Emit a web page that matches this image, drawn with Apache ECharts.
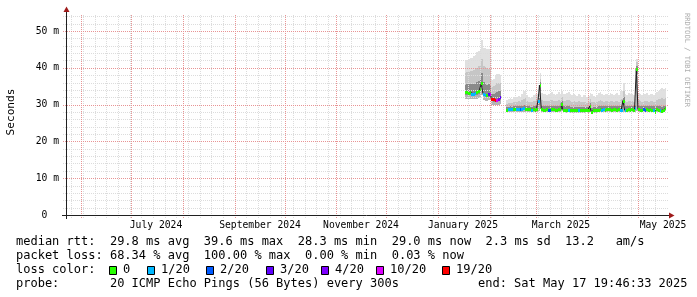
<!DOCTYPE html>
<html><head><meta charset="utf-8">
<script src="https://cdn.jsdelivr.net/npm/echarts@6/dist/echarts.min.js"></script>
<style>html,body{margin:0;padding:0;background:#fff}#c{width:697px;height:297px}</style>
</head><body><div id="c"></div>
<script>
// ---- time range and sampling ----
const startTime = Date.UTC(2024, 4, 22, 19, 46, 33);
const endTime = Date.UTC(2025, 4, 17, 19, 46, 33);
const firstSample = Date.UTC(2025, 0, 17, 12, 0, 0);
const DAY = 86400000;
const yAxisMax = 54.35;

// ---- series values (one value per day from firstSample) ----
const median = [33.3,33.3,33.2,33.3,33.0,33.0,33.1,33.3,33.6,34.2,35.8,33.0,32.6,32.5,32.8,32.9,
 31.6,31.4,31.2,31.2,31.5,32.0,
 null,null,null,
 28.6,28.7,28.8,28.7,28.8,28.8,28.9,28.8,28.7,28.8,29.0,28.9,28.8,28.7,28.7,28.6,28.7,28.6,28.7,31.0,
 35.3,28.7,28.6,28.6,28.7,28.6,28.6,28.7,28.7,28.6,28.6,28.7,28.7,30.3,28.6,
 28.5,28.5,28.6,28.5,28.5,28.5,28.4,28.5,28.5,28.4,28.5,28.4,28.5,28.6,28.5,
 29.6,28.0,28.5,28.6,28.5,28.6,28.7,28.6,28.7,28.6,28.7,28.8,28.7,28.6,28.7,28.7,28.6,28.7,28.6,28.6,
 31.1,28.5,28.6,28.7,28.6,28.7,28.6,29.2,
 39.7,
 28.7,28.6,28.6,28.7,28.6,28.7,28.6,28.7,28.6,28.6,28.1,28.7,28.6,28.4,28.3,28.6,29.0];

const lossIndex = [0,0,0,0,1,1,1,0,0,0,0,1,1,0,3,5,
 6,6,6,5,4,3,
 null,null,null,
 0,1,1,1,0,0,1,1,2,1,1,0,0,0,0,1,0,0,0,1,
 0,0,0,0,0,2,2,0,0,0,0,0,0,0,0,
 0,0,1,0,0,0,0,0,1,0,0,0,0,0,0,
 0,0,0,0,0,0,0,1,1,0,0,0,0,0,0,0,0,0,1,1,
 0,1,0,0,0,0,0,1,
 0,
 0,0,0,2,2,0,0,0,0,1,0,0,0,1,0,0,0];

const pingMax = [42.0,42.1,42.5,42.6,42.8,43.3,43.6,44.2,44.6,45.0,47.6,45.4,45.3,45.2,45.0,44.8,
 36.8,37.0,37.8,38.2,38.4,38.0,
 null,null,null,
 31.2,31.6,31.8,31.5,32.0,31.8,32.2,32.4,32.0,33.0,33.8,34.0,32.6,32.2,31.8,32.0,32.6,32.8,33.0,35.0,
 38.5,33.2,33.0,32.8,32.6,33.0,33.2,33.4,32.8,32.6,33.0,33.3,32.8,33.6,33.0,
 32.9,33.2,33.4,32.8,32.6,33.0,32.6,32.4,32.8,32.5,32.2,32.6,32.3,32.0,32.4,
 33.2,32.8,32.4,32.0,32.6,33.2,33.4,32.8,32.6,33.0,32.8,32.6,33.2,33.0,32.6,32.8,33.2,32.6,33.4,33.8,
 35.8,33.0,32.6,33.2,32.8,33.0,32.6,33.4,
 42.5,
 33.2,32.8,32.6,33.0,32.8,33.2,32.6,33.0,32.8,32.6,33.0,33.4,33.8,34.2,34.4,34.2,34.5];

const pingP90 = [38.6,38.8,38.9,39.0,39.2,39.4,39.6,40.0,40.4,40.8,42.5,40.6,40.2,40.0,39.8,39.6,
 34.8,35.0,35.4,35.8,36.0,35.8,
 null,null,null,
 30.2,30.4,30.5,30.4,30.6,30.6,30.8,30.9,30.7,31.2,31.6,31.7,31.0,30.8,30.6,30.6,30.9,31.0,31.2,33.0,
 37.0,31.3,31.1,31.0,30.9,31.1,31.2,31.3,31.0,30.9,31.1,31.3,31.0,32.0,31.1,
 31.0,31.2,31.3,30.9,30.8,31.0,30.8,30.7,30.9,30.7,30.6,30.8,30.6,30.4,30.6,
 31.4,30.8,30.7,30.5,30.8,31.1,31.2,30.9,30.8,31.0,30.9,30.8,31.1,31.0,30.8,30.9,31.1,30.8,31.2,31.5,
 33.8,31.0,30.8,31.1,30.9,31.0,30.8,31.6,
 41.6,
 31.2,30.9,30.8,31.0,30.9,31.1,30.8,31.0,30.9,30.8,30.8,31.2,31.4,31.6,31.7,31.6,31.8];

const pingHigh = [35.4,35.5,35.6,35.7,35.6,35.7,35.8,36.1,36.4,36.9,38.6,36.2,35.6,35.4,35.5,35.4,
 33.0,33.0,33.1,33.4,33.6,33.6,
 null,null,null,
 29.3,29.4,29.5,29.4,29.5,29.5,29.6,29.6,29.5,29.7,29.9,29.9,29.6,29.5,29.4,29.4,29.5,29.5,29.6,31.8,
 36.2,29.6,29.5,29.5,29.5,29.5,29.6,29.6,29.5,29.5,29.5,29.6,29.5,31.0,29.5,
 29.4,29.5,29.5,29.4,29.4,29.4,29.3,29.3,29.4,29.3,29.3,29.3,29.3,29.3,29.3,
 30.4,29.2,29.3,29.4,29.4,29.5,29.6,29.5,29.5,29.5,29.6,29.6,29.6,29.5,29.5,29.6,29.5,29.6,29.5,29.6,
 32.2,29.5,29.5,29.6,29.5,29.6,29.5,30.0,
 40.6,
 29.6,29.5,29.5,29.6,29.5,29.6,29.5,29.6,29.5,29.5,29.2,29.6,29.6,29.5,29.4,29.6,29.9];

const pingLow = [32.7,32.7,32.6,32.7,32.5,32.5,32.6,32.7,33.0,33.5,34.8,32.4,32.1,32.0,32.2,32.3,
 30.9,30.7,30.6,30.6,30.9,31.3,
 null,null,null,
 28.3,28.4,28.4,28.4,28.4,28.4,28.5,28.4,28.4,28.4,28.6,28.5,28.4,28.4,28.4,28.3,28.4,28.3,28.4,29.6,
 33.8,28.4,28.3,28.3,28.4,28.3,28.3,28.4,28.4,28.3,28.3,28.4,28.4,29.4,28.3,
 28.2,28.2,28.3,28.2,28.2,28.2,28.1,28.2,28.2,28.1,28.2,28.1,28.2,28.3,28.2,
 28.8,27.8,28.2,28.3,28.2,28.3,28.4,28.3,28.4,28.3,28.4,28.5,28.4,28.3,28.4,28.4,28.3,28.4,28.3,28.3,
 29.8,28.2,28.3,28.4,28.3,28.4,28.3,28.7,
 38.2,
 28.4,28.3,28.3,28.4,28.3,28.4,28.3,28.4,28.3,28.3,27.9,28.4,28.3,28.1,28.0,28.3,28.6];

const pingMin = [31.6,31.6,31.5,31.6,31.4,31.4,31.5,31.6,31.8,32.0,32.5,31.3,31.1,31.0,31.2,31.3,
 30.0,29.9,29.8,29.8,29.9,30.2,
 null,null,null,
 27.9,28.0,28.0,28.0,28.0,28.0,28.1,28.0,28.0,28.0,28.1,28.1,28.0,28.0,28.0,27.9,28.0,27.9,28.0,28.2,
 28.8,28.0,27.9,27.9,28.0,27.9,27.9,28.0,28.0,27.9,27.9,28.0,28.0,28.2,27.9,
 27.8,27.8,27.9,27.8,27.8,27.8,27.7,27.8,27.8,27.7,27.8,27.7,27.8,27.9,27.8,
 28.0,27.5,27.8,27.9,27.8,27.9,28.0,27.9,28.0,27.9,28.0,28.1,28.0,27.9,28.0,28.0,27.9,28.0,27.9,27.9,
 28.1,27.8,27.9,28.0,27.9,28.0,27.9,28.1,
 28.3,
 28.0,27.9,27.9,28.0,27.9,28.0,27.9,28.0,27.9,27.9,27.6,28.0,27.9,27.7,27.6,27.9,28.2];

// ---- legend / labels ----
const lossLabels = ['0', '1/20', '2/20', '3/20', '4/20', '10/20', '19/20'];
const lossColors = ['#26ff00', '#00b8ff', '#0059ff', '#5e00ff', '#7e00ff', '#dd00ff', '#ff0000'];
const yTicks = [0, 10, 20, 30, 40, 50];
const yTickLabels = ['0  ', '10 m', '20 m', '30 m', '40 m', '50 m'];
const xLabelMonths = [[2024, 6], [2024, 8], [2024, 10], [2025, 0], [2025, 2], [2025, 4]];
const xTickLabels = ['July 2024', 'September 2024', 'November 2024', 'January 2025', 'March 2025', 'May 2025'];
const statLine1 = 'median rtt:  29.8 ms avg  39.6 ms max  28.3 ms min  29.0 ms now  2.3 ms sd  13.2   am/s';
const statLine2 = 'packet loss: 68.34 % avg  100.00 % max  0.00 % min  0.03 % now';
const lossTitle = 'loss color:';
const probeLine = 'probe:       20 ICMP Echo Pings (56 Bytes) every 300s';
const endLine = 'end: Sat May 17 19:46:33 2025';
const yAxisTitle = 'Seconds';
const watermark = 'RRDTOOL / TOBI OETIKER';

// ---- build ----
const MONO = '"DejaVu Sans Mono", monospace';
const smokeColors = ['#b4b4b4', '#8a8a8a', '#c6c6c6', '#e0e0e0'];
const times = median.map((_, i) => firstSample + i * DAY);
const rows = times.map((t, i) => [t, pingMin[i], pingLow[i], median[i], pingHigh[i], pingP90[i], pingMax[i], lossIndex[i]]);
const lineData = times.map((t, i) => [t, median[i] == null ? '-' : median[i]]);

function okNum(v) { return v != null && !isNaN(v); }

function renderSmoke(params, api) {
  const t = api.value(0);
  const v = [api.value(1), api.value(2), api.value(4), api.value(5), api.value(6)];
  if (!v.every(okNum)) return null;
  const xl = Math.round(api.coord([t - DAY / 2, 0])[0]);
  const xr = Math.round(api.coord([t + DAY / 2, 0])[0]);
  const ys = v.map(x => Math.round(api.coord([t, x])[1]));
  const children = [];
  for (let k = 0; k < 4; k++) {
    children.push({ type: 'rect', shape: { x: xl, y: ys[k + 1], width: xr - xl, height: Math.max(0, ys[k] - ys[k + 1]) },
      style: { fill: smokeColors[k] } });
  }
  return { type: 'group', children };
}

function renderMedian(params, api) {
  const t = api.value(0), m = api.value(3), l = api.value(7);
  if (!okNum(m) || !okNum(l)) return null;
  const xl = Math.round(api.coord([t - DAY / 2, 0])[0]);
  const xr = Math.round(api.coord([t + DAY / 2, 0])[0]);
  const y = Math.round(api.coord([t, m])[1]);
  return { type: 'rect', shape: { x: xl, y: y - 1, width: Math.max(1, xr - xl), height: 3 }, style: { fill: lossColors[l] } };
}

const grid = { left: 66, top: 15, width: 600, height: 200 };
const chart = echarts.init(document.getElementById('c'), null, { renderer: 'canvas' });
chart.setOption({
  animation: false,
  backgroundColor: '#ffffff',
  grid: { left: grid.left, top: grid.top, width: grid.width, height: grid.height, containLabel: false },
  xAxis: { type: 'time', min: startTime, max: endTime,
    axisLine: { show: false }, axisTick: { show: false }, axisLabel: { show: false }, splitLine: { show: false } },
  yAxis: { type: 'value', min: 0, max: yAxisMax, interval: 10,
    axisLine: { show: false }, axisTick: { show: false }, splitLine: { show: false },
    axisLabel: { margin: 7, fontFamily: MONO, fontSize: 9.7, color: '#000', showMaxLabel: false,
      formatter: v => { const k = yTicks.indexOf(v); return k < 0 ? '' : yTickLabels[k]; } } },
  series: [
    { type: 'custom', z: 1, renderItem: renderSmoke, data: rows, encode: { x: 0, y: 3 }, silent: true },
    { type: 'line', z: 5, data: lineData, step: 'middle', symbol: 'none', connectNulls: false,
      lineStyle: { color: '#1c1c1c', width: 1 }, silent: true },
    { type: 'custom', z: 6, renderItem: renderMedian, data: rows, encode: { x: 0, y: 3 }, silent: true }
  ]
});

const px = t => chart.convertToPixel({ xAxisIndex: 0 }, t);
const py = v => chart.convertToPixel({ yAxisIndex: 0 }, v);
const L = grid.left, R = grid.left + grid.width, T = grid.top, B = grid.top + grid.height;
const MAJOR = '#e89494', MINOR = '#dcdcdc';
const g = [];
function dotted(x1, y1, x2, y2, color, z) {
  g.push({ type: 'line', z: z, silent: true, shape: { x1, y1, x2, y2 }, style: { stroke: color, lineWidth: 1, lineDash: [1, 1] } });
}
// horizontal grid
for (let v = 2; v < yAxisMax; v += 2) {
  if (v % 10 === 0) continue;
  const y = Math.round(py(v)) + 0.5;
  dotted(L - 3, y, R + 2, y, MINOR, 3);
}
yTicks.forEach(v => { if (v > 0) { const y = Math.round(py(v)) + 0.5; dotted(L - 3, y, R + 2, y, MAJOR, 4); } });
// vertical grid: weekly (Sunday) minor, monthly major
const monthStarts = [];
for (let y = 2024, m = 0; y < 2026; m++) {
  if (m > 11) { m = 0; y++; }
  const t = Date.UTC(y, m, 1);
  if (t > endTime) break;
  if (t > startTime) monthStarts.push(t);
}
let w = Date.UTC(2024, 4, 22);
while (new Date(w).getUTCDay() !== 0) w += DAY;
for (; w < endTime; w += 7 * DAY) {
  if (monthStarts.some(ms => Math.abs(ms - w) < DAY)) continue;
  const x = Math.round(px(w)) + 0.5;
  dotted(x, T, x, B + 3, MINOR, 3);
}
monthStarts.forEach(t => { const x = Math.round(px(t)) + 0.5; dotted(x, T, x, B + 3, MAJOR, 4); });

// axes and arrows
g.push({ type: 'line', z: 7, silent: true, shape: { x1: L - 4, y1: B + 0.5, x2: R + 5, y2: B + 0.5 }, style: { stroke: '#202020', lineWidth: 1 } });
g.push({ type: 'line', z: 7, silent: true, shape: { x1: L + 0.5, y1: B + 4, x2: L + 0.5, y2: T - 4 }, style: { stroke: '#202020', lineWidth: 1 } });
g.push({ type: 'polygon', z: 8, silent: true, shape: { points: [[R + 3, B - 2.5], [R + 8.5, B + 0.5], [R + 3, B + 3.5]] }, style: { fill: '#9e1a1a' } });
g.push({ type: 'polygon', z: 8, silent: true, shape: { points: [[L - 2.5, T - 3], [L + 0.5, T - 8.5], [L + 3.5, T - 3]] }, style: { fill: '#9e1a1a' } });

function txt(text, x, y, size, opts) {
  const o = Object.assign({ align: 'left', vAlign: 'middle', color: '#000', rotation: 0, family: MONO }, opts || {});
  g.push({ type: 'text', z: 9, silent: true, x, y, rotation: o.rotation,
    style: { text, font: size + 'px ' + o.family, fill: o.color,
      textAlign: o.align, align: o.align, textVerticalAlign: o.vAlign, verticalAlign: o.vAlign } });
}
// x labels (centered mid-month)
xLabelMonths.forEach((ym, i) => {
  const t = Date.UTC(ym[0], ym[1], 1) + 15 * DAY;
  txt(xTickLabels[i], Math.round(px(t)), 225, 9.7, { align: 'center' });
});
txt(yAxisTitle, 11, 112, 11.2, { align: 'center', rotation: Math.PI / 2 });
txt(watermark, 687, 60, 7.1, { align: 'center', rotation: -Math.PI / 2, color: '#aeaeae' });

// legend
txt(statLine1, 16, 242, 12);
txt(statLine2, 16, 256, 12);
txt(lossTitle, 16, 270, 12);
const boxX = [109, 147, 206, 266, 321, 376, 442];
lossLabels.forEach((lab, i) => {
  g.push({ type: 'rect', z: 9, silent: true, shape: { x: boxX[i] + 0.5, y: 266.5, width: 7, height: 8 },
    style: { fill: lossColors[i], stroke: '#000', lineWidth: 1 } });
  txt(lab, boxX[i] + 14, 270, 12);
});
txt(probeLine, 16, 284, 12);
txt(endLine, 478, 284, 12);

chart.setOption({ graphic: { elements: g } });
</script>
</body></html>
